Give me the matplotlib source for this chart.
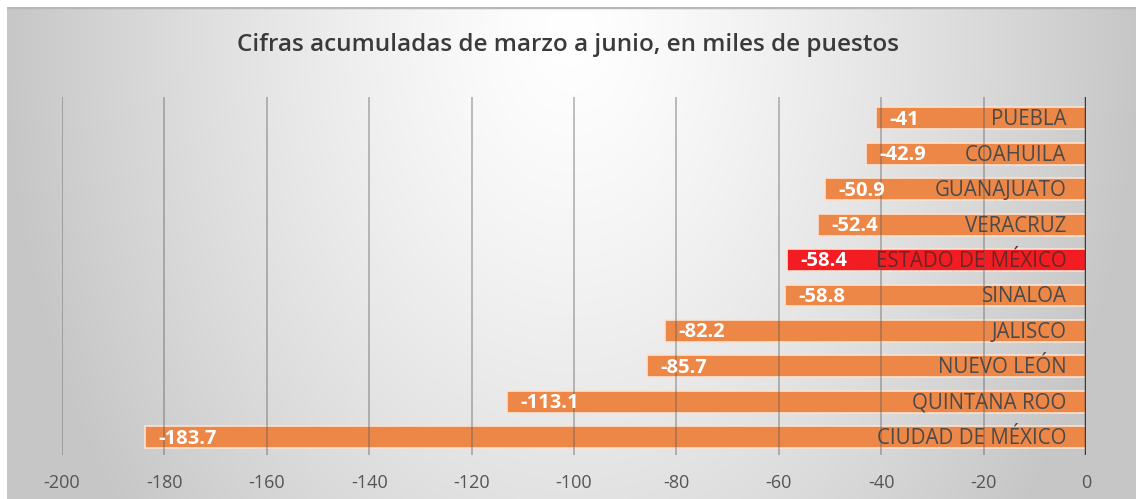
import numpy as np
import matplotlib.pyplot as plt

estados = ['CIUDAD DE MÉXICO', 'QUINTANA ROO', 'NUEVO LEÓN', 'JALISCO', 'SINALOA',
           'ESTADO DE MÉXICO', 'VERACRUZ', 'GUANAJUATO', 'COAHUILA', 'PUEBLA']
valores = [-183.7, -113.1, -85.7, -82.2, -58.8, -58.4, -52.4, -50.9, -42.9, -41]
etiquetas = ['-183.7', '-113.1', '-85.7', '-82.2', '-58.8', '-58.4', '-52.4', '-50.9', '-42.9', '-41']
resaltado = 'ESTADO DE MÉXICO'
xticks = list(range(-200, 1, 20))

plt.rcParams['font.family'] = ['Open Sans', 'DejaVu Sans']

fig = plt.figure(figsize=(11.36, 4.99), dpi=100)

# fondo degradado (gris en bordes, claro arriba al centro)
bg = fig.add_axes([7 / 1136, 0, 1 - 7 / 1136, 1 - 7 / 499], zorder=-5)
xx, yy = np.meshgrid(np.linspace(-1, 1, 600), np.linspace(0, 1, 300))
d = np.sqrt(xx ** 2 + ((yy - 0.05) / 1.6) ** 2)
shade = 1 - 0.22 * np.clip(d, 0, 1) ** 1.3
bg.imshow(np.dstack([shade, shade, shade]), aspect='auto', extent=[0, 1, 0, 1], origin='upper')
bg.axhline(1, color='#b8b8b8', lw=2.5)
bg.set_axis_off()

ax = fig.add_axes([62 / 1136, 1 - 455 / 499, (1086 - 62) / 1136, (455 - 97) / 499])
ax.patch.set_alpha(0)

y = np.arange(len(valores))
colores = ['#F21C22' if e == resaltado else '#ED8747' for e in estados]
ax.barh(y, valores, height=0.62, color=colores, edgecolor='#fbe3d3', linewidth=1.2, zorder=2)

for xv in xticks[:-1]:
    ax.axvline(xv, color='#5a5a5a', lw=1.2, alpha=0.45, zorder=3)
ax.axvline(0, color='#3a3a3a', lw=2.5, zorder=4)

for yi, v, lab, est in zip(y, valores, etiquetas, estados):
    ax.text(v + 2.6, yi - 0.04, lab, color='white', fontsize=14.5, fontweight='bold',
            va='center', ha='left', zorder=5)
    ax.text(-3.8, yi - 0.04, est, color='#6a2626' if est == resaltado else '#4a4a4a',
            fontsize=14.8, va='center', ha='right', zorder=5)

ax.set_xlim(-200, 0)
ax.set_ylim(-0.5, 9.6)
ax.set_xticks(xticks)
ax.set_xticklabels([str(t) for t in xticks], fontsize=13, color='#555555')
ax.set_yticks([])
ax.tick_params(axis='x', length=0, pad=14)
for s in ax.spines.values():
    s.set_visible(False)

fig.text(0.5, 1 - 45 / 499, 'Cifras acumuladas de marzo a junio, en miles de puestos',
         ha='center', va='center', fontsize=17.5, fontweight='semibold', color='#3a3a3a')

fig.savefig('out.png', dpi=100)
